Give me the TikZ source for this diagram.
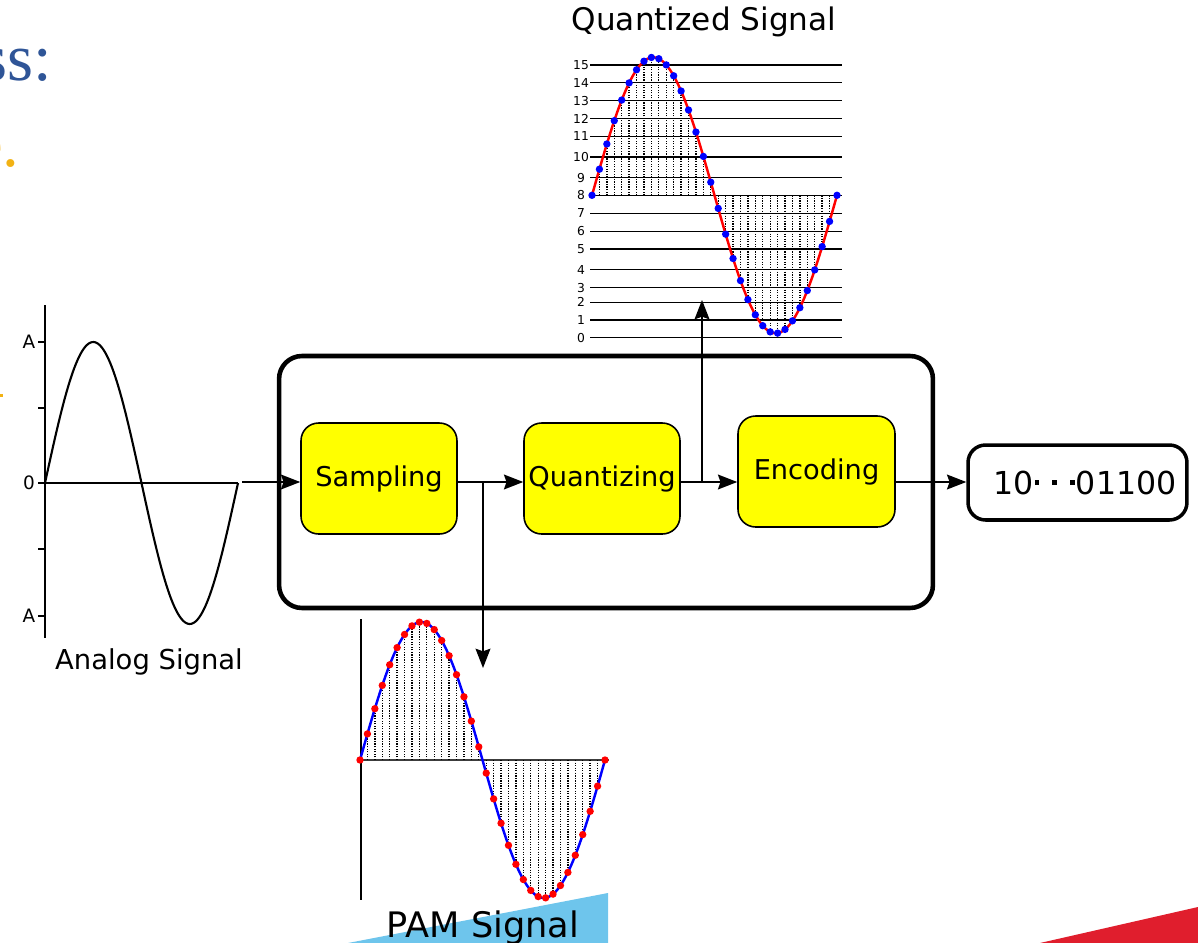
\documentclass[tikz,border=0pt]{standalone}
\usepackage{fontspec}
\setmainfont{DejaVu Sans}
\newfontfamily\slideserif{Liberation Serif}
\usetikzlibrary{arrows.meta}

\definecolor{stageyellow}{RGB}{255,255,0}
\definecolor{titleblue}{RGB}{47,85,151}
\definecolor{accentgold}{RGB}{242,178,20}
\definecolor{slideblue}{RGB}{110,197,236}
\definecolor{slidered}{RGB}{224,30,45}
\definecolor{axisgray}{RGB}{60,60,60}

% small raised square used between the bit groups
\newcommand{\bitgap}{\rule[5.6pt]{2.7pt}{2.7pt}}

\tikzset{
  stage/.style={draw=black, line width=0.9pt, fill=stageyellow, rounded corners=10pt,
    minimum width=3.12cm, minimum height=2.22cm, inner sep=0pt,
    font=\fontsize{15.5}{18}\selectfont},
  flow/.style={line width=0.8pt, -{Stealth[length=11pt,width=8.5pt,inset=1.5pt]}},
  axis/.style={line width=0.8pt, black},
  hatch/.style={line width=0.75pt, black, dash pattern=on 0.7pt off 0.75pt},
  wave/.style={line width=1.4pt},
  level/.style={line width=0.8pt, black},
  tiny/.style={font=\fontsize{7}{8}\selectfont, inner sep=0pt},
  caption/.style={inner sep=0pt}
}

\begin{document}
\begin{tikzpicture}[x=0.02cm, y=-0.02cm]
\useasboundingbox (0,0) rectangle (1198,943);

% slide decorations behind the figure
\fill[slideblue] (348,943) -- (608,893) -- (608,943) -- cycle;
\fill[slidered] (1040,943) -- (1198,907) -- (1198,943) -- cycle;
\node[caption, anchor=base west, text=titleblue, font=\slideserif\fontsize{38}{40}\selectfont] (ttl) at (-19,80) {ss:};
\node[caption, anchor=base west, text=accentgold, font=\slideserif\fontsize{38}{40}\selectfont] (sub) at (-27,166) {e.};
\fill[accentgold] (0,394) rectangle (3,396.5);

% ---------- analog signal ----------
\draw[axis] (45,305) -- (45,638);
\draw[axis] (45,483) -- (238,483);
\foreach \yy in {342,408,483,549,616}
  \draw[axis] (38,\yy) -- (45,\yy);
\node[caption, font=\fontsize{10.5}{12}\selectfont] (atop) at (29,342) {A};
\node[caption, font=\fontsize{10.5}{12}\selectfont] (azero) at (29,483) {0};
\node[caption, font=\fontsize{10.5}{12}\selectfont] (abot) at (29,616) {A};
\draw[line width=1.2pt, black] plot[domain=0:193, samples=120, smooth] ({45+\x},{483-141*sin(\x/193*360)});
\node[caption, font=\fontsize{15.6}{18}\selectfont] (analoglbl) at (149,662) {Analog Signal};

% ---------- processing chain ----------
\node[draw=black, line width=2.6pt, rounded corners=13pt, minimum width=13.08cm,
      minimum height=5.04cm, inner sep=0pt] (codec) at (606,482) {};
\node[stage] (samp) at (379,478.5) {Sampling};
\node[stage] (quant) at (602,478.5) {Quantizing};
\node[stage, minimum width=3.14cm] (enc) at (816.5,471.5) {Encoding};
\node[draw=black, line width=2pt, rounded corners=10pt, minimum width=4.38cm,
      minimum height=1.5cm, inner sep=0pt] (out) at (1077.5,482.5) {};
\node[caption, font=\fontsize{18}{20}\selectfont] (bits) at (1085,483)
      {10\hspace{0.6pt}\bitgap\hspace{7.4pt}\bitgap\hspace{7.4pt}\bitgap\hspace{0.6pt}01100};

\coordinate (ain) at (242,482);
\coordinate (split1) at (483,482);
\coordinate (pamin) at (483,668);
\coordinate (split2) at (702,482);
\coordinate (qin) at (702,300);

\draw[flow] (ain) -- (ain -| samp.west);
\draw[flow] (samp.east |- ain) -- (ain -| quant.west);
\draw[flow] (split1) -- (pamin);
\draw[flow] (quant.east |- ain) -- (ain -| enc.west);
\draw[flow] (split2) -- (qin);
\draw[flow] (enc.east |- ain) -- (ain -| out.west);

% ---------- quantized signal ----------
\foreach \lv/\yy in {0/337.7,1/320,2/302.3,3/287.7,4/269.7,5/249,6/231.3,7/213.3,
                     8/195.3,9/177.7,10/157,11/136.3,12/118.7,13/100.7,14/82.7,15/65} {
  \draw[level] (590,\yy) -- (842,\yy);
  \node[tiny] (q\lv) at (581,\yy) {\lv};
}
\begin{scope}[shift={(592,195.3)}]
  \foreach \j in {1,...,32}
    \draw[hatch] ({\j/33*245},0) -- ({\j/33*245},{-138*sin(\j/33*360)});
  \draw[wave, red] plot[domain=0:245, samples=120, smooth] (\x,{-138*sin(\x/245*360)});
  \foreach \i in {0,...,33}
    \fill[blue] ({\i/33*245},{-138*sin(\i/33*360)}) circle[radius=2.1pt];
\end{scope}
\node[caption, font=\fontsize{17.7}{20}\selectfont] (quantlbl) at (704,22) {Quantized Signal};

% ---------- PAM signal ----------
\draw[line width=0.7pt, black] (361,619) -- (361,900);
\draw[line width=1.1pt, axisgray] (360,760) -- (609,760);
\begin{scope}[shift={(360,760)}]
  \foreach \j in {1,...,32}
    \draw[hatch] ({\j/33*245},0) -- ({\j/33*245},{-138*sin(\j/33*360)});
  \draw[wave, blue] plot[domain=0:245, samples=120, smooth] (\x,{-138*sin(\x/245*360)});
  \foreach \i in {0,...,33}
    \fill[red] ({\i/33*245},{-138*sin(\i/33*360)}) circle[radius=2.1pt];
\end{scope}
\node[caption, anchor=base, font=\fontsize{20}{22}\selectfont] (pamlbl) at (483,937) {PAM Signal};

\end{tikzpicture}
\end{document}
